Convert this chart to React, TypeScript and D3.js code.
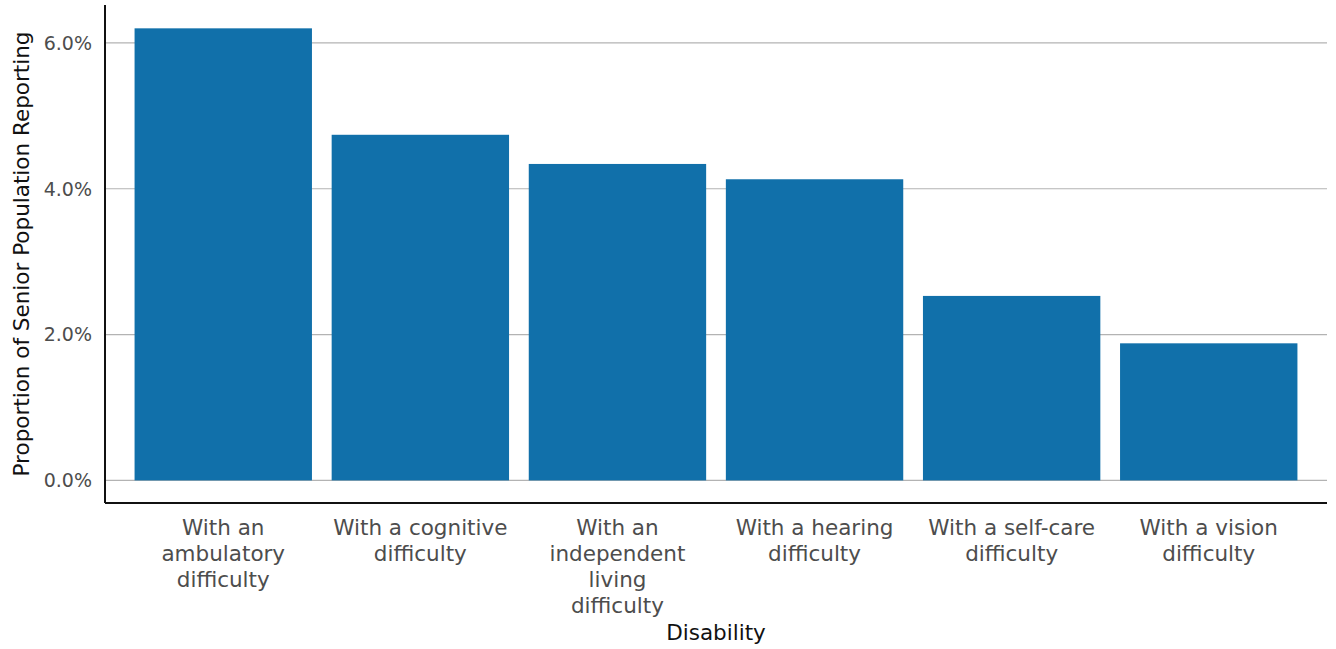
import React from "react";
import * as d3 from "d3";

const categories: string[][] = [
  ["With an", "ambulatory", "difficulty"],
  ["With a cognitive", "difficulty"],
  ["With an", "independent", "living", "difficulty"],
  ["With a hearing", "difficulty"],
  ["With a self-care", "difficulty"],
  ["With a vision", "difficulty"],
];
const values: number[] = [6.2, 4.74, 4.34, 4.13, 2.53, 1.88];
const yTicks: number[] = [0, 2, 4, 6];
const yTickLabels: string[] = ["0.0%", "2.0%", "4.0%", "6.0%"];
const xTitle = "Disability";
const yTitle = "Proportion of Senior Population Reporting";

const W = 1336;
const H = 649;
const left = 105;
const right = 1327;
const top = 5;
const bottom = 503;
const FONT = "'DejaVu Sans', sans-serif";

export default function App() {
  const keys = categories.map((c) => c.join(" "));
  const x = d3
    .scaleBand<string>()
    .domain(keys)
    .range([left, right])
    .paddingInner(0.1)
    .paddingOuter(0.15);
  const y = d3.scaleLinear().domain([-0.31, 6.52]).range([bottom, top]);

  return (
    <svg
      width={W}
      height={H}
      style={{ position: "absolute", left: 0, top: 0, background: "#fff" }}
      fontFamily={FONT}
    >
      {yTicks.map((t) => (
        <line
          key={"g" + t}
          x1={left}
          x2={right}
          y1={y(t)}
          y2={y(t)}
          stroke="#b3b3b3"
          strokeWidth={1.2}
        />
      ))}
      {values.map((v, i) => (
        <rect
          key={"b" + i}
          x={x(keys[i])}
          width={x.bandwidth()}
          y={y(v)}
          height={y(0) - y(v)}
          fill="#1170aa"
        />
      ))}
      <line x1={left} x2={left} y1={top} y2={bottom} stroke="#111" strokeWidth={2} />
      <line x1={left} x2={right} y1={bottom} y2={bottom} stroke="#111" strokeWidth={2} />
      {yTicks.map((t, i) => (
        <text
          key={"t" + t}
          x={92}
          y={y(t)}
          dy="0.36em"
          textAnchor="end"
          fontSize={19}
          fill="#4d4d4d"
        >
          {yTickLabels[i]}
        </text>
      ))}
      {categories.map((lines, i) => (
        <text
          key={"c" + i}
          x={(x(keys[i]) as number) + x.bandwidth() / 2}
          y={535}
          textAnchor="middle"
          fontSize={21.5}
          fill="#4d4d4d"
        >
          {lines.map((l, j) => (
            <tspan key={j} x={(x(keys[i]) as number) + x.bandwidth() / 2} dy={j === 0 ? 0 : 26}>
              {l}
            </tspan>
          ))}
        </text>
      ))}
      <text x={(left + right) / 2} y={640} textAnchor="middle" fontSize={21.5} fill="#111">
        {xTitle}
      </text>
      <text
        transform={`translate(29, ${(top + bottom) / 2}) rotate(-90)`}
        textAnchor="middle"
        fontSize={21.5}
        fill="#111"
      >
        {yTitle}
      </text>
    </svg>
  );
}
